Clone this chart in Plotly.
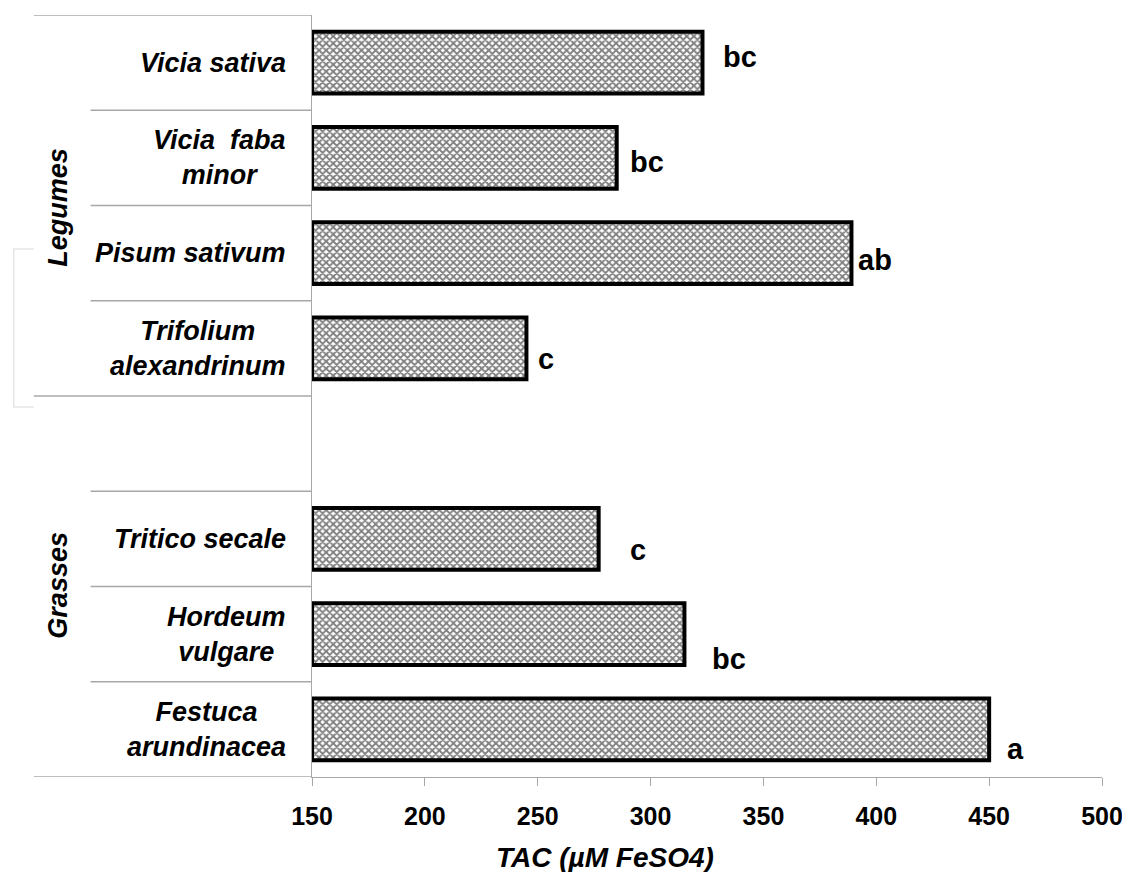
import plotly.graph_objects as go

# ---- data ----
species = ["Vicia sativa", "Vicia  faba<br>minor", "Pisum sativum", "Trifolium<br>alexandrinum",
           "Tritico secale", "Hordeum<br>vulgare", "Festuca<br>arundinacea"]
groups = ["Legumes", "Legumes", "Legumes", "Legumes", "Grasses", "Grasses", "Grasses"]
tac = [323, 285, 389, 245, 277, 315, 450]
letters = ["bc", "bc", "ab", "c", "c", "bc", "a"]
tick_vals = [150, 200, 250, 300, 350, 400, 450, 500]
x_title = "TAC (µM FeSO4)"

AXIS_MIN = 150
FONT = "Liberation Sans, Arial, sans-serif"

# page has an 8px body margin; figure sized to fit the 1130x872 window
W, H = 1122, 864
L, R, T, B = 304, 26, 7, 95
PW = W - L - R
PH = H - T - B

def px_x(x):  # page pixel -> paper x
    return (x - 8 - L) / PW

def px_y(y):  # page pixel -> paper y
    return 1 - (y - 8 - T) / PH

# slot positions (top to bottom) with one empty slot between the groups
positions = []
slot = len(species)
prev = None
for g in groups:
    if prev is not None and g != prev:
        slot -= 1
    positions.append(slot)
    slot -= 1
    prev = g

fig = go.Figure()
fig.add_trace(go.Bar(
    y=positions, x=[v - AXIS_MIN for v in tac], base=AXIS_MIN, orientation="h",
    width=0.65,
    marker=dict(color="white", line=dict(color="black", width=4),
                pattern=dict(shape="x", fgcolor="black", bgcolor="white", size=5, solidity=0.6)),
    showlegend=False, hoverinfo="skip",
))

# letter annotations (pixel offsets are styling)
gap_px = [19, 11, 5, 10, 29, 26, 16]
dy_px = [-6, 4, 7, 11, 11, 25, 20]
for p, v, lt, gx, dy in zip(positions, tac, letters, gap_px, dy_px):
    fig.add_annotation(x=v, y=p, xref="x", yref="y", text="<b>" + lt + "</b>", showarrow=False,
                       xanchor="left", yanchor="middle", xshift=gx, yshift=-dy,
                       font=dict(family=FONT, size=29, color="black"))

# category labels
for p, s in zip(positions, species):
    fig.add_annotation(x=0, y=p, xref="paper", yref="y", text="<b><i>" + s + "</i></b>",
                       showarrow=False, xanchor="right", yanchor="middle", align="center",
                       xshift=-24, font=dict(family=FONT, size=27, color="black"))

# group labels
group_pos = {"Legumes": (57, 207), "Grasses": (57, 585)}
for g, (gx, gy) in group_pos.items():
    fig.add_annotation(x=px_x(gx), y=px_y(gy), xref="paper", yref="paper",
                       text="<b><i>" + g + "</i></b>",
                       showarrow=False, textangle=-90, xanchor="center", yanchor="middle",
                       font=dict(family=FONT, size=27, color="black"))

# separator lines
GRAY = "#a8a8a8"
long_x0 = px_x(33)
short_x0 = px_x(90)
bounds = [7.5, 6.5, 5.5, 4.5, 3.5, 2.5, 1.5, 0.5, -0.5]
long_b = {7.5, 3.5, -0.5}
for b in bounds:
    fig.add_shape(type="line", xref="paper", yref="y", x0=long_x0 if b in long_b else short_x0,
                  x1=0, y0=b, y1=b, line=dict(color=GRAY, width=1.3))

# faint bracket artifact on the left
BR = "#e6e6e6"
bx = px_x(13)
fig.add_shape(type="path", xref="paper", yref="paper",
              path=f"M {long_x0} {px_y(249)} L {bx} {px_y(249)} L {bx} {px_y(407)} L {long_x0} {px_y(407)}",
              line=dict(color=BR, width=1.5))

fig.add_annotation(x=px_x(606), y=px_y(857), xref="paper", yref="paper",
                   text="<b><i>" + x_title + "</i></b>", showarrow=False,
                   xanchor="center", yanchor="middle", font=dict(family=FONT, size=28, color="black"))

fig.update_layout(
    width=W, height=H, margin=dict(l=L, r=R, t=T, b=B),
    paper_bgcolor="white", plot_bgcolor="white",
    xaxis=dict(range=[150, 500], tickvals=tick_vals, showgrid=False, zeroline=False,
               showline=True, linecolor=GRAY, linewidth=1.3, ticks="outside", ticklen=8,
               tickcolor=GRAY, tickwidth=1.3, ticklabelstandoff=9,
               tickfont=dict(family=FONT, size=25, color="black", weight="bold")),
    yaxis=dict(range=[-0.5, 7.5], showticklabels=False, showgrid=False, zeroline=False,
               showline=True, linecolor=GRAY, linewidth=1.3, ticks=""),
)

fig.write_html("out.html")
